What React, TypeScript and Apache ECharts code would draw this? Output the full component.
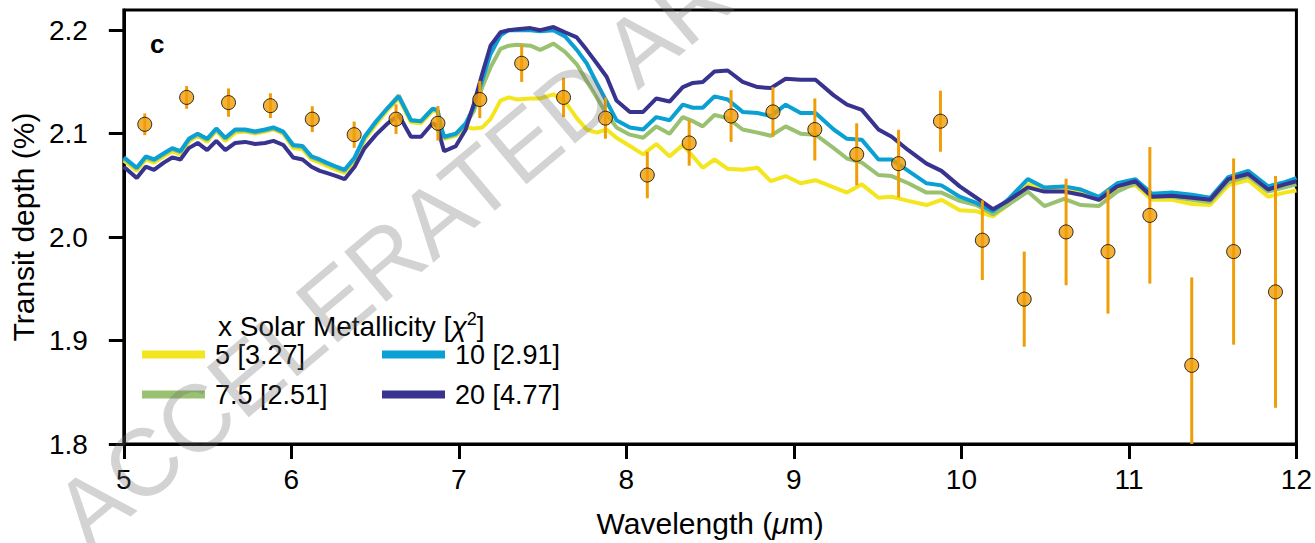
import React, { useEffect, useRef } from "react";
import * as echarts from "echarts";

// Observed transit spectrum (wavelength µm, transit depth %, 1-sigma error)
const obsWavelength = [5.125, 5.375, 5.625, 5.875, 6.125, 6.375, 6.625, 6.875, 7.125, 7.375, 7.625, 7.875, 8.125, 8.375, 8.625, 8.875, 9.125, 9.375, 9.625, 9.875, 10.125, 10.375, 10.625, 10.875, 11.125, 11.375, 11.625, 11.875];
const obsDepth = [2.109, 2.135, 2.130, 2.127, 2.114, 2.099, 2.114, 2.110, 2.133, 2.168, 2.135, 2.115, 2.060, 2.091, 2.117, 2.121, 2.104, 2.080, 2.071, 2.112, 1.997, 1.940, 2.005, 1.986, 2.021, 1.876, 1.986, 1.947];
const obsError = [0.0105, 0.011, 0.0137, 0.012, 0.0125, 0.0127, 0.0143, 0.0167, 0.018, 0.018, 0.019, 0.020, 0.0225, 0.022, 0.025, 0.024, 0.030, 0.030, 0.0327, 0.0295, 0.0385, 0.046, 0.0515, 0.060, 0.066, 0.085, 0.090, 0.112];

// Model grid
const modelWavelength = [5.000, 5.077, 5.131, 5.180, 5.239, 5.289, 5.338, 5.388, 5.441, 5.497, 5.552, 5.606, 5.665, 5.724, 5.784, 5.843, 5.893, 5.952, 6.011, 6.067, 6.120, 6.170, 6.210, 6.269, 6.318, 6.378, 6.437, 6.506, 6.576, 6.641, 6.714, 6.774, 6.843, 6.873, 6.893, 6.912, 6.982, 7.041, 7.090, 7.140, 7.189, 7.249, 7.298, 7.347, 7.427, 7.486, 7.565, 7.634, 7.704, 7.763, 7.823, 7.882, 7.941, 8.021, 8.100, 8.179, 8.258, 8.337, 8.397, 8.456, 8.526, 8.605, 8.694, 8.783, 8.862, 8.951, 9.040, 9.129, 9.238, 9.317, 9.406, 9.505, 9.584, 9.683, 9.792, 9.881, 9.990, 10.089, 10.188, 10.277, 10.396, 10.495, 10.613, 10.713, 10.821, 10.930, 11.039, 11.138, 11.257, 11.376, 11.485, 11.593, 11.712, 11.831, 11.930, 12.000];

const metal5 = [2.074, 2.064, 2.075, 2.072, 2.078, 2.083, 2.080, 2.092, 2.098, 2.092, 2.103, 2.093, 2.101, 2.102, 2.100, 2.102, 2.104, 2.100, 2.086, 2.085, 2.075, 2.072, 2.069, 2.065, 2.062, 2.074, 2.094, 2.109, 2.123, 2.134, 2.111, 2.110, 2.122, 2.121, 2.104, 2.095, 2.098, 2.106, 2.105, 2.106, 2.114, 2.132, 2.135, 2.133, 2.134, 2.134, 2.138, 2.131, 2.115, 2.104, 2.101, 2.104, 2.096, 2.088, 2.080, 2.090, 2.078, 2.089, 2.078, 2.067, 2.075, 2.066, 2.065, 2.067, 2.054, 2.059, 2.052, 2.055, 2.048, 2.043, 2.051, 2.038, 2.039, 2.035, 2.031, 2.036, 2.026, 2.025, 2.020, 2.031, 2.051, 2.047, 2.048, 2.043, 2.036, 2.047, 2.050, 2.036, 2.036, 2.032, 2.031, 2.050, 2.055, 2.039, 2.043, 2.045];
const metal7p5 = [2.076, 2.066, 2.077, 2.074, 2.080, 2.085, 2.082, 2.094, 2.099, 2.094, 2.104, 2.095, 2.103, 2.103, 2.101, 2.103, 2.105, 2.101, 2.088, 2.087, 2.077, 2.074, 2.071, 2.067, 2.064, 2.076, 2.096, 2.111, 2.125, 2.137, 2.113, 2.112, 2.124, 2.122, 2.106, 2.096, 2.099, 2.109, 2.122, 2.145, 2.164, 2.182, 2.185, 2.186, 2.185, 2.181, 2.187, 2.179, 2.167, 2.151, 2.135, 2.119, 2.106, 2.099, 2.096, 2.107, 2.100, 2.116, 2.112, 2.107, 2.118, 2.115, 2.104, 2.101, 2.098, 2.107, 2.100, 2.099, 2.086, 2.076, 2.072, 2.060, 2.059, 2.052, 2.043, 2.043, 2.035, 2.031, 2.022, 2.031, 2.044, 2.030, 2.037, 2.031, 2.030, 2.044, 2.052, 2.039, 2.039, 2.036, 2.034, 2.053, 2.059, 2.044, 2.048, 2.051];
const metal10 = [2.077, 2.067, 2.078, 2.075, 2.081, 2.086, 2.083, 2.095, 2.100, 2.095, 2.105, 2.096, 2.104, 2.104, 2.102, 2.104, 2.106, 2.102, 2.089, 2.088, 2.078, 2.075, 2.072, 2.068, 2.065, 2.077, 2.097, 2.112, 2.125, 2.136, 2.113, 2.112, 2.124, 2.123, 2.107, 2.097, 2.100, 2.110, 2.126, 2.152, 2.177, 2.195, 2.200, 2.200, 2.200, 2.199, 2.200, 2.194, 2.181, 2.168, 2.149, 2.131, 2.113, 2.106, 2.104, 2.116, 2.113, 2.128, 2.125, 2.125, 2.136, 2.133, 2.121, 2.120, 2.117, 2.128, 2.120, 2.120, 2.104, 2.095, 2.094, 2.075, 2.075, 2.064, 2.052, 2.050, 2.039, 2.033, 2.025, 2.036, 2.056, 2.048, 2.049, 2.046, 2.039, 2.052, 2.056, 2.042, 2.043, 2.041, 2.038, 2.058, 2.064, 2.049, 2.053, 2.057];
const metal20 = [2.068, 2.057, 2.068, 2.065, 2.072, 2.077, 2.075, 2.086, 2.091, 2.084, 2.093, 2.084, 2.091, 2.092, 2.090, 2.091, 2.093, 2.089, 2.077, 2.075, 2.068, 2.064, 2.062, 2.059, 2.056, 2.068, 2.086, 2.099, 2.110, 2.118, 2.097, 2.097, 2.110, 2.107, 2.094, 2.083, 2.088, 2.104, 2.129, 2.158, 2.185, 2.198, 2.200, 2.201, 2.202, 2.200, 2.203, 2.198, 2.193, 2.181, 2.168, 2.155, 2.132, 2.121, 2.121, 2.134, 2.131, 2.145, 2.149, 2.150, 2.160, 2.161, 2.150, 2.145, 2.144, 2.153, 2.152, 2.152, 2.137, 2.128, 2.123, 2.104, 2.097, 2.084, 2.071, 2.064, 2.049, 2.038, 2.027, 2.035, 2.048, 2.044, 2.044, 2.041, 2.036, 2.049, 2.054, 2.039, 2.040, 2.038, 2.036, 2.056, 2.061, 2.046, 2.051, 2.054];

const seriesNames = ["5 [3.27]", "7.5 [2.51]", "10 [2.91]", "20 [4.77]"];
const seriesColors = ["#F4E61E", "#99C170", "#0AA0D4", "#38338F"];
const yTicks = [1.8, 1.9, 2.0, 2.1, 2.2];

const FONT = "Liberation Sans, Arial, Helvetica, sans-serif";
const ORANGE = "#F09E08";

export default function App() {
  const ref = useRef<HTMLDivElement>(null);
  useEffect(() => {
    if (!ref.current) return;
    document.body.style.margin = "0";
    const chart = echarts.init(ref.current, undefined, { renderer: "svg" });
    const models = [metal5, metal7p5, metal10, metal20];
    const lineSeries = models.map((vals, i) => ({
      name: seriesNames[i],
      type: "line",
      data: modelWavelength.map((w, j) => [w, vals[j]]),
      showSymbol: false,
      symbol: "none",
      lineStyle: { color: seriesColors[i], width: 4 },
      itemStyle: { color: seriesColors[i] },
      z: 2 + i,
    }));
    const obs = obsWavelength.map((w, i) => [w, obsDepth[i], obsError[i]]);
    const legendText = { fontSize: 27, color: "#000", fontFamily: FONT, padding: [0, 0, 0, 5] };
    chart.setOption({
      animation: false,
      textStyle: { fontFamily: FONT },
      grid: { left: 118, right: 18, top: 10, bottom: 97, show: true, borderColor: "#000", borderWidth: 3, backgroundColor: "transparent" },
      xAxis: {
        type: "value",
        min: 5,
        max: 12,
        interval: 1,
        name: "Wavelength ({i|μ}m)",
        nameLocation: "middle",
        nameGap: 64,
        nameTextStyle: { fontSize: 30, color: "#000", fontFamily: FONT, rich: { i: { fontStyle: "italic", fontSize: 30, color: "#000", fontFamily: FONT } } },
        axisLine: { lineStyle: { color: "#000", width: 3 } },
        axisTick: { inside: false, length: 15, lineStyle: { color: "#000", width: 3 } },
        axisLabel: { fontSize: 28, color: "#000", margin: 21, fontFamily: FONT },
        splitLine: { show: false },
      },
      yAxis: {
        type: "value",
        min: 1.8,
        max: 2.2195,
        interval: 0.1,
        name: "Transit depth (%)",
        nameLocation: "middle",
        nameGap: 85,
        nameTextStyle: { fontSize: 30, color: "#000", fontFamily: FONT },
        axisLine: { lineStyle: { color: "#000", width: 3 } },
        axisTick: { inside: false, length: 15, lineStyle: { color: "#000", width: 3 }, customValues: yTicks },
        axisLabel: { fontSize: 28, color: "#000", margin: 36, fontFamily: FONT, customValues: yTicks, formatter: (v: number) => v.toFixed(1) },
        splitLine: { show: false },
      },
      legend: [
        {
          data: [seriesNames[0], seriesNames[1]],
          orient: "vertical",
          left: 137,
          top: 336,
          icon: "rect",
          itemWidth: 63,
          itemHeight: 8,
          itemGap: 13,
          textStyle: legendText,
        },
        {
          data: [seriesNames[2], seriesNames[3]],
          orient: "vertical",
          left: 377,
          top: 336,
          icon: "rect",
          itemWidth: 63,
          itemHeight: 8,
          itemGap: 13,
          textStyle: legendText,
        },
      ],
      series: [
        ...lineSeries,
        {
          type: "custom",
          name: "errors",
          data: obs,
          z: 10,
          renderItem: (params: any, api: any) => {
            const x = api.value(0);
            const y = api.value(1);
            const e = api.value(2);
            const top = api.coord([x, y + e]);
            const bot = api.coord([x, y - e]);
            const cs = params.coordSys;
            const yb = Math.min(bot[1], cs.y + cs.height);
            const yt = Math.max(top[1], cs.y);
            return {
              type: "line",
              shape: { x1: top[0], y1: yt, x2: bot[0], y2: yb },
              style: { stroke: ORANGE, lineWidth: 3 },
            };
          },
        },
        {
          type: "scatter",
          name: "data",
          data: obs.map((d) => [d[0], d[1]]),
          symbol: "circle",
          symbolSize: 14,
          itemStyle: { color: ORANGE, borderColor: "#000", borderWidth: 1 },
          z: 11,
        },
      ],
      graphic: [
        {
          type: "text",
          left: 150,
          top: 31,
          style: { text: "c", fontSize: 26, fontWeight: "bold", fill: "#000", fontFamily: FONT },
        },
        {
          type: "text",
          left: 218,
          top: 310,
          style: {
            text: "x Solar Metallicity [{i|χ}{s|2}]",
            fontSize: 28,
            fill: "#000",
            fontFamily: FONT,
            rich: {
              i: { fontStyle: "italic", fontSize: 28, fontFamily: FONT, fill: "#000" },
              s: { fontSize: 18, fontFamily: FONT, fill: "#000", padding: [0, 0, 14, 0] },
            },
          },
        },
        {
          type: "text",
          x: 68,
          y: 526,
          rotation: 0.698,
          z: 100,
          style: {
            text: "ACCELERATED ARTICLE PREVIEW",
            fontSize: 95,
            fill: "rgba(110,110,110,0.3)",
            fontFamily: FONT,
            align: "left",
            verticalAlign: "middle",
          },
        },
      ],
    });
    return () => chart.dispose();
  }, []);
  return <div ref={ref} style={{ width: 1315, height: 543 }} />;
}
